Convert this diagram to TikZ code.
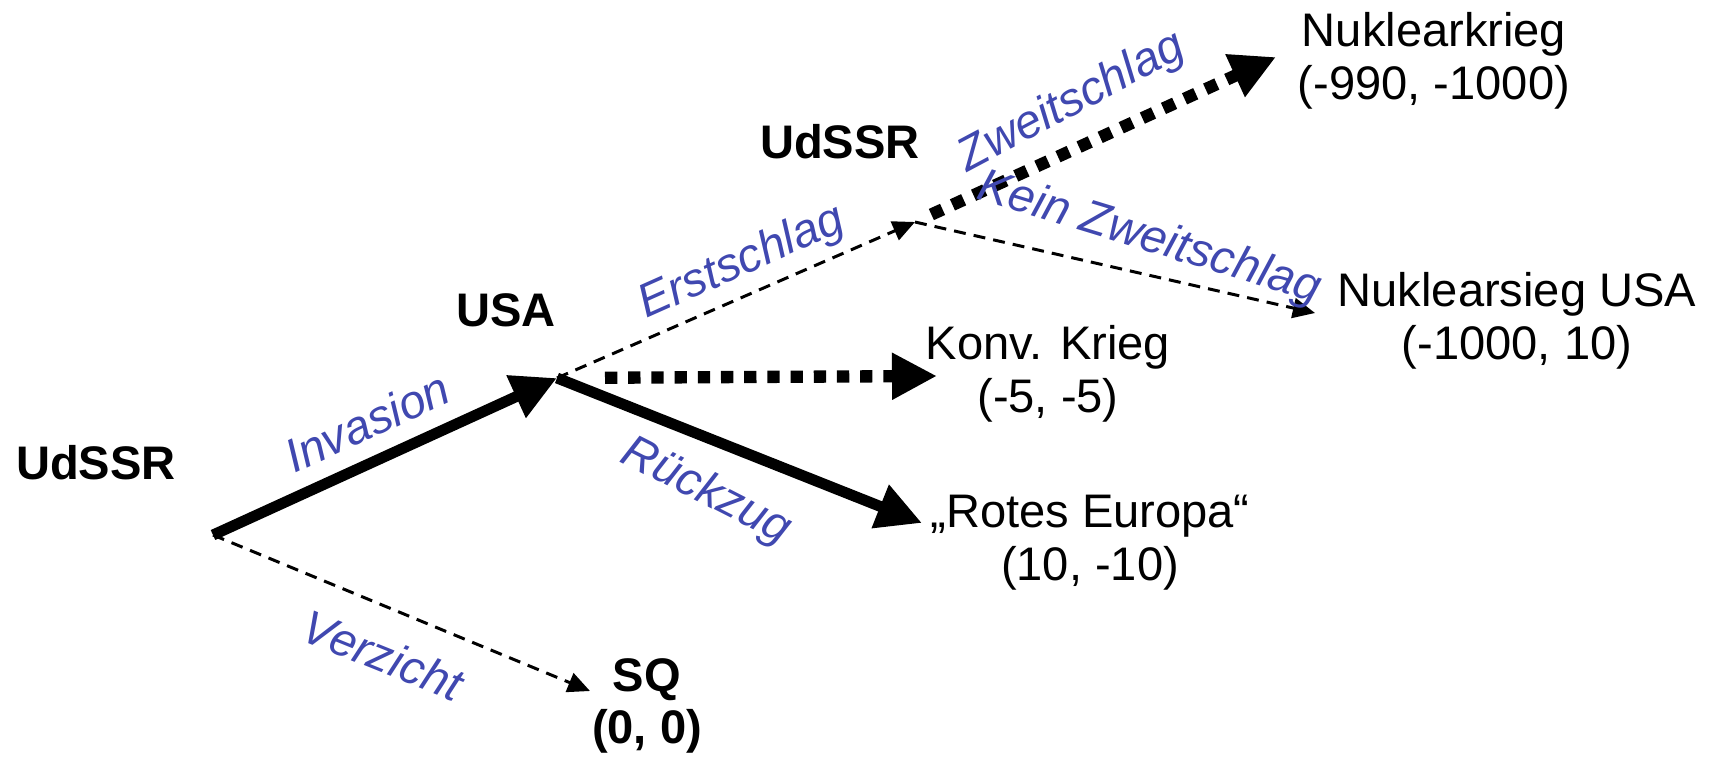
\documentclass[tikz,border=0pt]{standalone}
\usepackage{fontspec}
\setmainfont{Liberation Sans}
\usepackage{xcolor}
\usetikzlibrary{arrows.meta}
\definecolor{labelblue}{RGB}{64,72,176}

\begin{document}
\begin{tikzpicture}[
		every node/.style={font=\fontsize{13.4}{15}\selectfont, inner sep=0pt},
		player/.style={font=\fontsize{13.4}{15}\selectfont\bfseries},
		outcome/.style={align=center},
		move/.style={text=labelblue, font=\fontsize{13.4}{15}\selectfont\itshape},
		strong/.style={line width=3.1pt, -{Triangle[length=12.8pt,width=12.5pt]}},
		weak/.style={line width=0.85pt, dash pattern=on 3.4pt off 2.3pt, -{Triangle[length=6.3pt,width=5.7pt]}},
		heavydots/.style={line width=3.5pt, dash pattern=on 3.5pt off 3.1pt, -{Triangle[length=12.8pt,width=12.5pt]}}
	]
		\useasboundingbox (0,0) rectangle (17.17,7.61);
		\coordinate (root) at (2.13,2.26);
		\coordinate (usa) at (5.57,3.83);
		\coordinate (ussr) at (9.15,5.39);
		\coordinate (sqtip) at (5.90,0.70);
		\coordinate (konvtip) at (9.37,3.85);
		\coordinate (redtip) at (9.22,2.38);
		\coordinate (nuktip) at (12.76,7.04);
		\coordinate (siegtip) at (13.15,4.48);

		\node[player] (first) at (0.96,2.98) {UdSSR};
		\node[player] (second) at (5.06,4.51) {USA};
		\node[player] (third) at (8.40,6.19) {UdSSR};
		\node[player, outcome] (sq) at (6.47,0.55) {SQ\\(0, 0)};
		\node[outcome] (konv) at (10.48,3.87) {Konv. Krieg\\(-5, -5)};
		\node[outcome] (rotes) at (10.90,2.18) {„Rotes Europa“\\(10, -10)};
		\node[outcome] (nuk) at (14.34,7.00) {Nuklearkrieg\\(-990, -1000)};
		\node[outcome] (sieg) at (15.17,4.40) {Nuklearsieg USA\\(-1000, 10)};

		\draw[strong] (root) -- (usa);
		\draw[weak] (root) -- (sqtip);
		\draw[weak] (usa) -- (ussr);
		\draw[heavydots, shorten <=0.48cm] (usa) -- (konvtip);
		\draw[strong] (usa) -- (redtip);
		\draw[heavydots, shorten <=0.18cm] (ussr) -- (nuktip);
		\draw[weak] (ussr) -- (siegtip);

		\node[move, rotate=24.5] (invasion) at (3.67,3.39) {Invasion};
		\node[move, rotate=-22] (verzicht) at (3.83,1.06) {Verzicht};
		\node[move, rotate=24] (erst) at (7.42,4.98) {Erstschlag};
		\node[move, rotate=-27] (rueck) at (7.06,2.69) {Rückzug};
		\node[move, rotate=28] (zweit) at (10.72,6.58) {Zweitschlag};
		\node[move, rotate=-17] (kein) at (11.49,5.22) {Kein Zweitschlag};
	\end{tikzpicture}
\end{document}
